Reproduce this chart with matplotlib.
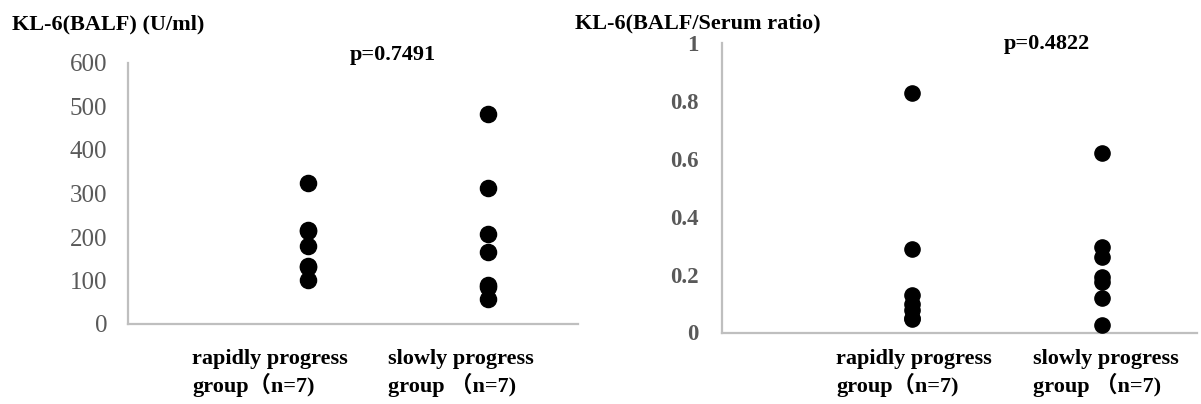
import matplotlib
matplotlib.use("Agg")
import matplotlib.pyplot as plt

# ---- data ----
categories = ["rapidly progress\ngroup（n=7)", "slowly progress\ngroup （n=7)"]
balf_rapid = [323, 216, 214, 179, 134, 130, 101]
balf_slow = [482, 313, 208, 165, 90, 86, 57]
ratio_rapid = [0.829, 0.288, 0.13, 0.10, 0.078, 0.05, 0.045]
ratio_slow = [0.621, 0.294, 0.262, 0.19, 0.176, 0.12, 0.025]
left_yticks = [0, 100, 200, 300, 400, 500, 600]
right_yticks = [0, 0.2, 0.4, 0.6, 0.8, 1]
right_yticklabels = ["0", "0.2", "0.4", "0.6", "0.8", "1"]
left_title = "KL-6(BALF) (U/ml)"
right_title = "KL-6(BALF/Serum ratio)"
left_p = "p=0.7491"
right_p = "p=0.4822"

W, H = 1201, 404
fig = plt.figure(figsize=(W / 100, H / 100), dpi=100)

SERIF = ["Liberation Serif", "Noto Sans CJK JP", "DejaVu Serif"]
plt.rcParams["font.family"] = SERIF
SPINE = "#BFBFBF"
TICKC = "#595959"


def px(x, y):
    return x / W, 1 - y / H


def rect(x0, y_top, x1, y_bot):
    return [x0 / W, 1 - y_bot / H, (x1 - x0) / W, (y_bot - y_top) / H]


def style(ax):
    for s in ["top", "right"]:
        ax.spines[s].set_visible(False)
    for s in ["left", "bottom"]:
        ax.spines[s].set_color(SPINE)
        ax.spines[s].set_linewidth(1.6)
    ax.set_xticks([])
    ax.tick_params(axis="y", length=0)
    ax.set_xlim(0, 2.5)


# ---- left chart ----
ax1 = fig.add_axes(rect(128, 63, 578, 324))
style(ax1)
ax1.set_ylim(0, 600)
ax1.set_yticks(left_yticks)
ax1.set_yticklabels([str(v) for v in left_yticks], fontsize=18, color=TICKC)
ax1.tick_params(axis="y", pad=15)
ax1.scatter([1] * len(balf_rapid), balf_rapid, s=135, color="black", zorder=3, clip_on=False)
ax1.scatter([2] * len(balf_slow), balf_slow, s=135, color="black", zorder=3, clip_on=False)

# ---- right chart ----
ax2 = fig.add_axes(rect(722, 43, 1197, 332.5))
style(ax2)
ax2.set_ylim(0, 1)
ax2.set_yticks(right_yticks)
ax2.set_yticklabels(right_yticklabels, fontsize=16.5, color=TICKC, fontweight="bold")
ax2.tick_params(axis="y", pad=17)
ax2.scatter([1] * len(ratio_rapid), ratio_rapid, s=120, color="black", zorder=3, clip_on=False)
ax2.scatter([2] * len(ratio_slow), ratio_slow, s=120, color="black", zorder=3, clip_on=False)

# ---- texts ----
bold = dict(fontsize=16, fontweight="bold", color="black", family=SERIF)
fig.text(*px(12, 24), left_title, ha="left", va="center", **bold)
fig.text(*px(575, 23), right_title, ha="left", va="center", **bold)
fig.text(*px(350, 55), left_p, ha="left", va="center", **bold)
fig.text(*px(1004, 44), right_p, ha="left", va="center", **bold)

label_x = [(192, 388), (836, 1033)]
for (xa, xb) in label_x:
    for xx, cat in zip((xa, xb), categories):
        l1, l2 = cat.split("\n")
        fig.text(*px(xx, 359), l1, ha="left", va="center", **bold)
        fig.text(*px(xx, 385), l2, ha="left", va="center", **bold)

fig.savefig("out.png", dpi=100, facecolor="white")
